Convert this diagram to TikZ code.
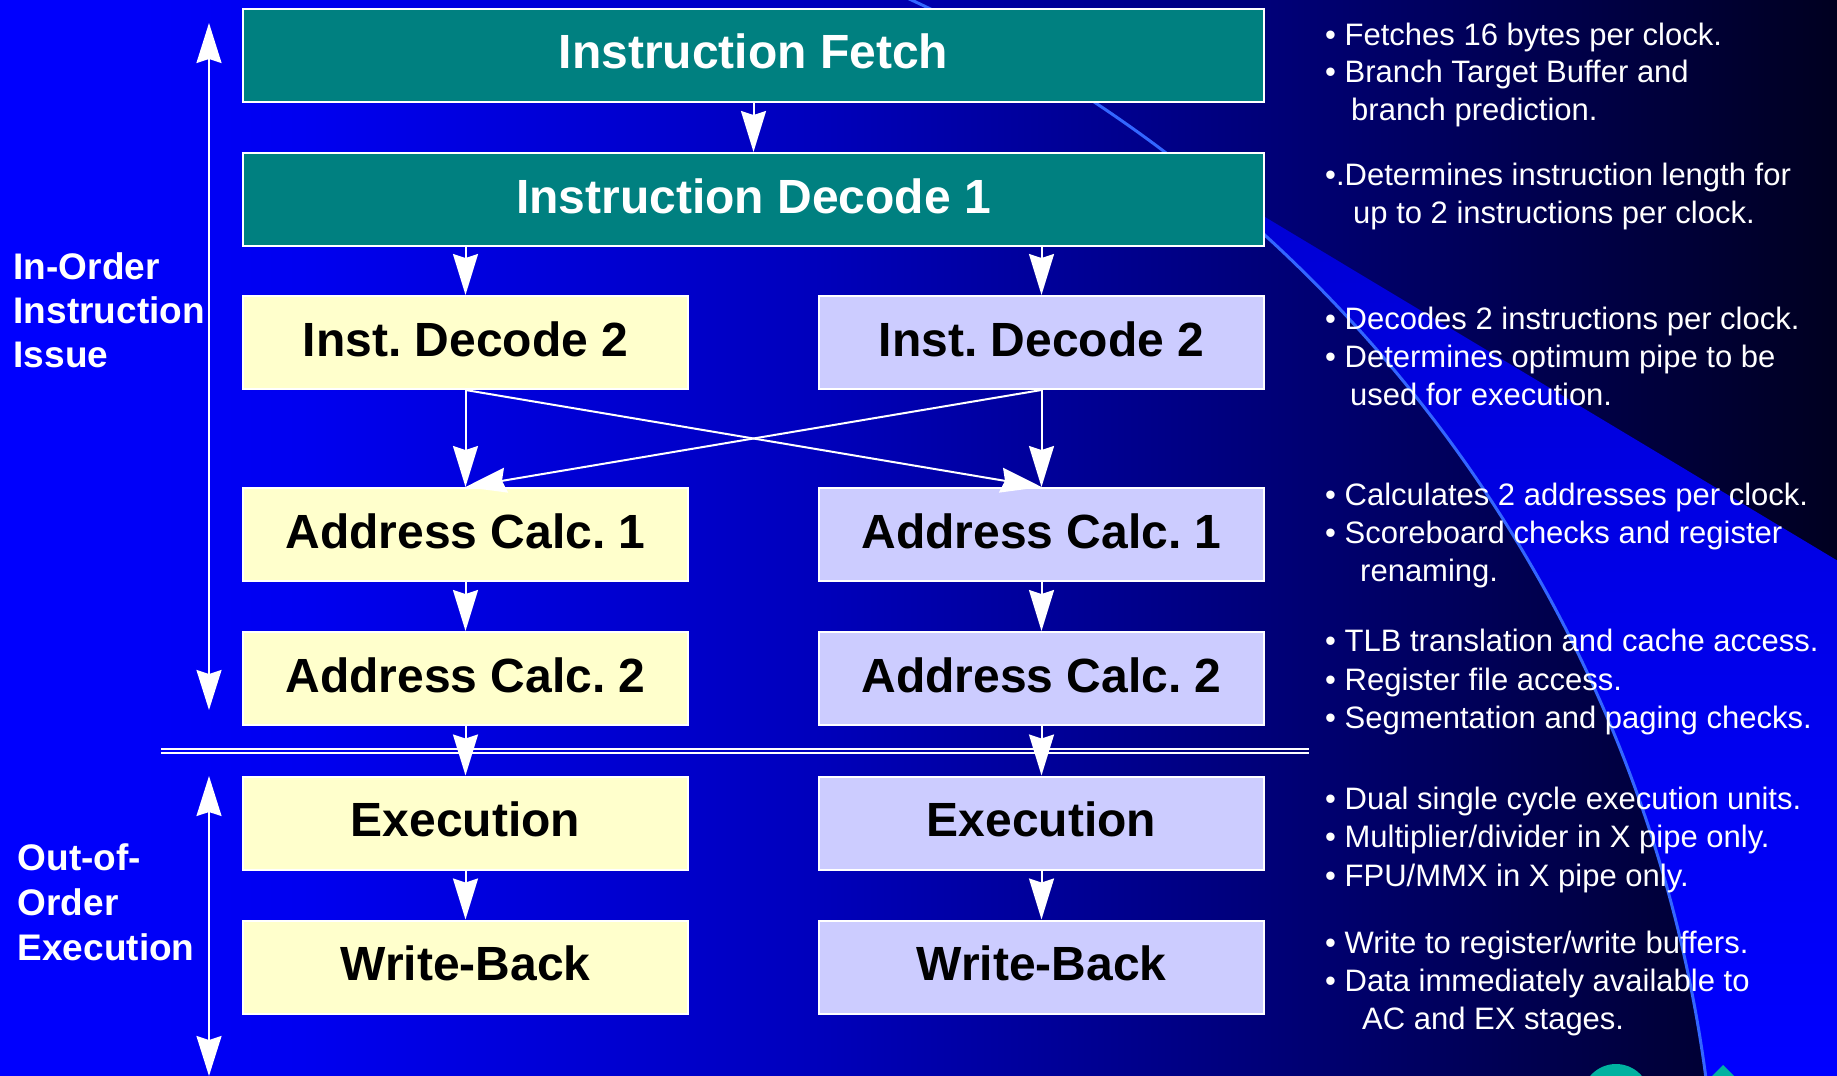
\documentclass[tikz,border=0pt]{standalone}
\usepackage{fontspec}
\setmainfont{Liberation Sans}
\usetikzlibrary{arrows.meta}
\frenchspacing
\definecolor{tealbox}{RGB}{0,128,128}
\definecolor{yelbox}{RGB}{255,255,204}
\definecolor{lavbox}{RGB}{204,204,255}
\definecolor{arcblue}{RGB}{51,102,255}
\definecolor{bgA}{RGB}{0,0,255}
\definecolor{bgB}{RGB}{0,0,240}
\definecolor{bgC}{RGB}{0,0,190}
\definecolor{bgD}{RGB}{0,0,115}
\definecolor{bgE}{RGB}{0,0,32}
\definecolor{wedgeTop}{RGB}{0,0,210}
\definecolor{wedgeBot}{RGB}{0,0,255}
\definecolor{greenish}{RGB}{0,178,160}
\begin{document}
\begin{tikzpicture}[x=1pt,y=-1pt,
  box/.style={draw=white, line width=2pt, minimum width=445pt, minimum height=93pt,
    inner sep=0pt, font=\bfseries\fontsize{48}{48}\selectfont, text height=35pt, text depth=8pt},
  widebox/.style={box, minimum width=1021pt, fill=tealbox, text=white},
  lbox/.style={box, fill=yelbox, text=black},
  rbox/.style={box, fill=lavbox, text=black},
  conn/.style={draw=white, line width=2pt, -{Stealth[length=41pt,width=25pt,inset=4pt]}},
  dconn/.style={draw=white, line width=2pt,
    {Stealth[length=40pt,width=25pt,inset=4pt]}-{Stealth[length=40pt,width=25pt,inset=4pt]}},
  note/.style={anchor=base west, inner sep=0pt, text=white, font=\fontsize{31}{37}\selectfont},
  side/.style={anchor=base west, inner sep=0pt, text=white, font=\bfseries\fontsize{37}{44}\selectfont},
  sepline/.style={draw=white, line width=2pt},
  arcline/.style={draw=arcblue, line width=3pt},
]
\useasboundingbox (0,0) rectangle (1837,1076);
% background gradient
\shade[left color=bgA, right color=bgB] (-1,-1) rectangle (301,1077);
\shade[left color=bgB, right color=bgC] (300,-1) rectangle (801,1077);
\shade[left color=bgC, right color=bgD] (800,-1) rectangle (1301,1077);
\shade[left color=bgD, right color=bgE] (1300,-1) rectangle (1838,1077);
% bright wedge right of the arc
\begin{scope}
  \clip (1150,148) -- (1838,561) -- (1838,1077) -- (1150,1077) -- cycle;
  \begin{scope}[even odd rule]
    \clip (-200,-200) rectangle (2100,1300) (328,1262) circle[radius=1390pt];
    \shade[top color=wedgeTop, bottom color=wedgeBot] (1150,148) rectangle (1838,1077);
  \end{scope}
\end{scope}
% arc line and corner shapes
\begin{scope}
  \clip (0,0) rectangle (1837,1076);
  \draw[arcline] (328,1262) circle[radius=1390pt];
  \fill[greenish] (1616,1098) circle[radius=34pt];
  \fill[greenish] (1723,1065) -- (1757,1099) -- (1723,1133) -- (1689,1099) -- cycle;
\end{scope}

% boxes
\node[widebox] (fetch) at (753.5,55) {Instruction Fetch};
\node[widebox] (dec1) at (753.5,199.5) {Instruction Decode 1};
\node[lbox] (id2l) at (465.5,342.5) {Inst. Decode 2};
\node[rbox] (id2r) at (1041.5,342.5) {Inst. Decode 2};
\node[lbox] (ac1l) at (465.5,534.5) {Address Calc. 1};
\node[rbox] (ac1r) at (1041.5,534.5) {Address Calc. 1};
\node[lbox] (ac2l) at (465.5,678.5) {Address Calc. 2};
\node[rbox] (ac2r) at (1041.5,678.5) {Address Calc. 2};
\node[lbox] (exl) at (465.5,823) {Execution};
\node[rbox] (exr) at (1041.5,823) {Execution};
\node[lbox] (wbl) at (465.5,967) {Write-Back};
\node[rbox] (wbr) at (1041.5,967) {Write-Back};

% separator double line
\coordinate (sepA1) at (161,748.5);
\coordinate (sepB1) at (1309,748.5);
\coordinate (sepA2) at (161,753);
\coordinate (sepB2) at (1309,753);
\draw[sepline] (sepA1) -- (sepB1);
\draw[sepline] (sepA2) -- (sepB2);

% connectors
\draw[conn] (fetch.south) -- (dec1.north);
\draw[conn] (dec1.south -| id2l.north) -- (id2l.north);
\draw[conn] (dec1.south -| id2r.north) -- (id2r.north);
\draw[conn] (id2l.south) -- (ac1l.north);
\draw[conn] (id2r.south) -- (ac1r.north);
\draw[conn] (id2l.south) -- (ac1r.north);
\draw[conn] (id2r.south) -- (ac1l.north);
\draw[conn] (ac1l.south) -- (ac2l.north);
\draw[conn] (ac1r.south) -- (ac2r.north);
\draw[conn] (ac2l.south) -- (exl.north);
\draw[conn] (ac2r.south) -- (exr.north);
\draw[conn] (exl.south) -- (wbl.north);
\draw[conn] (exr.south) -- (wbr.north);

% side arrows
\coordinate (ioTop) at (209,23);
\coordinate (ioBot) at (209,710);
\coordinate (ooTop) at (209,776);
\coordinate (ooBot) at (209,1076);
\draw[dconn] (ioBot) -- (ioTop);
\draw[dconn] (ooBot) -- (ooTop);

% side labels
\node[side] (lio1) at (13.5,279) {In-Order};
\node[side] (lio2) at (13.5,323) {Instruction};
\node[side] (lio3) at (13.5,367.5) {Issue};
\node[side] (loo1) at (17.5,870) {Out-of-};
\node[side] (loo2) at (17.5,915) {Order};
\node[side] (loo3) at (17.5,960) {Execution};

% notes
\node[note] (n11) at (1325,45) {• Fetches 16 bytes per clock.};
\node[note] (n12) at (1325,82.5) {• Branch Target Buffer and};
\node[note] (n13) at (1351,120) {branch prediction.};
\node[note] (n21) at (1325,185) {•.Determines instruction length for};
\node[note] (n22) at (1353,223) {up to 2 instructions per clock.};
\node[note] (n31) at (1325,329) {• Decodes 2 instructions per clock.};
\node[note] (n32) at (1325,367) {• Determines optimum pipe to be};
\node[note] (n33) at (1350,405) {used for execution.};
\node[note] (n41) at (1325,505) {• Calculates 2 addresses per clock.};
\node[note] (n42) at (1325,543) {• Scoreboard checks and register};
\node[note] (n43) at (1360,581) {renaming.};
\node[note] (n51) at (1325,651) {• TLB translation and cache access.};
\node[note] (n52) at (1325,690) {• Register file access.};
\node[note] (n53) at (1325,728) {• Segmentation and paging checks.};
\node[note] (n61) at (1325,809) {• Dual single cycle execution units.};
\node[note] (n62) at (1325,847) {• Multiplier/divider in X pipe only.};
\node[note] (n63) at (1325,886) {• FPU/MMX in X pipe only.};
\node[note] (n71) at (1325,953) {• Write to register/write buffers.};
\node[note] (n72) at (1325,991) {• Data immediately available to};
\node[note] (n73) at (1362,1029) {AC and EX stages.};
\end{tikzpicture}
\end{document}
